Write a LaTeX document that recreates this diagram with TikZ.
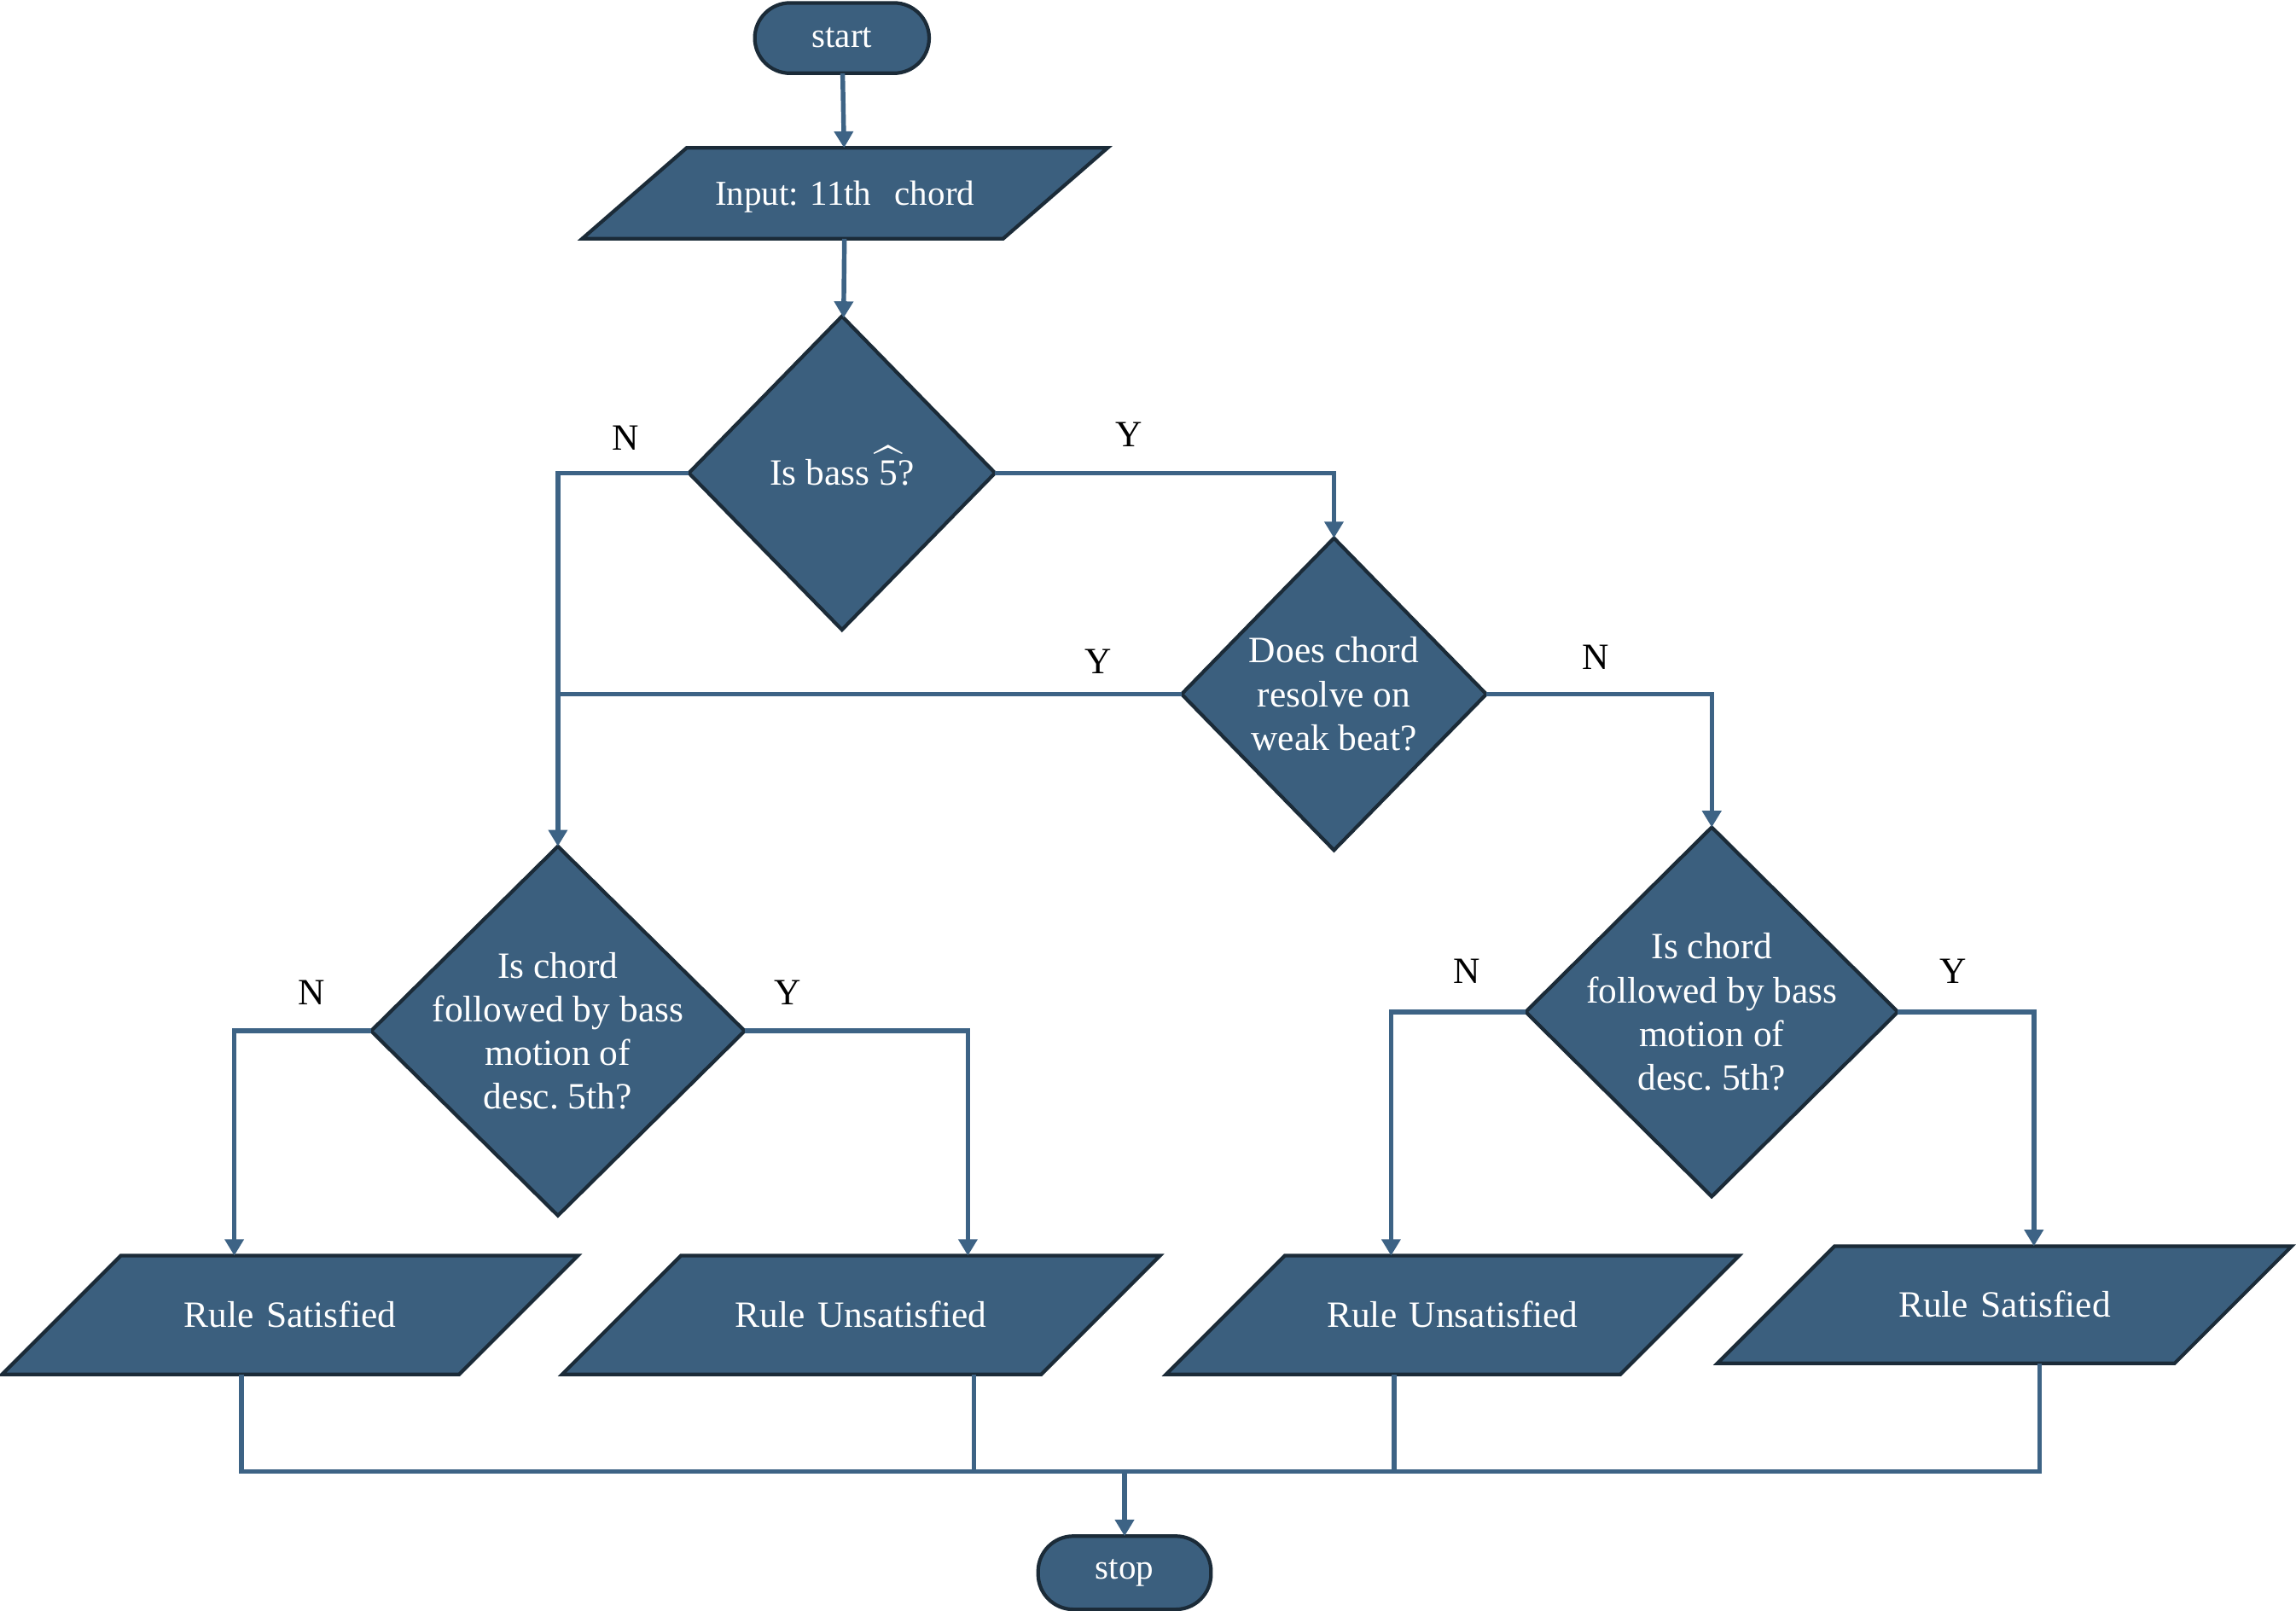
\documentclass[tikz,border=0pt]{standalone}
\usepackage{fontspec}
\setmainfont{Liberation Serif}
\usetikzlibrary{arrows.meta,shapes.geometric}
\definecolor{boxfill}{HTML}{3B5F7E}
\definecolor{boxline}{HTML}{1B2B38}
\definecolor{conn}{HTML}{3D6385}
\frenchspacing

\begin{document}
\begin{tikzpicture}[x=0.01cm,y=-0.01cm,
  font=\fontsize{7.2}{8.5}\selectfont,
  box/.style={draw=boxline,fill=boxfill,line width=0.7pt,text=white,inner sep=0pt,outer sep=0pt},
  term/.style={box,rectangle,rounded corners=0.24cm,font=\fontsize{6.8}{8}\selectfont},
  dia/.style={box,diamond},
  io/.style={box,trapezium,trapezium left angle=45,trapezium right angle=135,align=center,
    text width=2.31cm,text height=0.489cm,text depth=0.321cm},
  txt/.style={text=white,align=center,inner sep=0pt},
  lab/.style={inner sep=0pt},
  ln/.style={draw=conn,line width=0.9pt},
  arr/.style={ln,-{Triangle[length=3.2pt,width=3.6pt]}}]
\useasboundingbox (0,0) rectangle (1568,1100);

\node[term,minimum width=1.19cm,minimum height=0.48cm] (start) at (575,26) {start};
\node[io,trapezium left angle=41,trapezium right angle=139,text width=2.16cm,text height=0.394cm,text depth=0.226cm,font=\fontsize{6.8}{8}\selectfont] (in) at (577,132) {Input: 11th\ \ chord};

\node[dia,minimum width=2.09cm,minimum height=2.14cm] (Q1) at (575,323) {};
\node[txt,text height=0.168cm,text depth=0pt] (Q1t) at (Q1) {Is bass \mbox{$\widehat{\mbox{5}}$}?};
\node[dia,minimum width=2.08cm,minimum height=2.13cm] (Q2) at (911,474) {};
\node[txt] (Q2t) at (Q2) {Does chord\\resolve on\\weak beat?};
\node[dia,minimum width=2.55cm,minimum height=2.52cm] (Q3) at (381,704) {};
\node[txt] (Q3t) at (Q3) {Is chord\\followed by bass\\motion of\\desc. 5th?};
\node[dia,minimum width=2.54cm,minimum height=2.52cm] (Q4) at (1169,691) {};
\node[txt] (Q4t) at (Q4) {Is chord\\followed by bass\\motion of\\desc. 5th?};

\node[io] (RS1) at (198,898) {Rule Satisfied};
\node[io,text width=2.46cm] (RU1) at (588,898) {Rule Unsatisfied};
\node[io,text width=2.29cm] (RU2) at (992,898) {Rule Unsatisfied};
\node[io,text width=2.32cm,text height=0.484cm,text depth=0.316cm] (RS2) at (1369,891) {Rule Satisfied};

\node[term,minimum width=1.18cm,minimum height=0.50cm] (stop) at (768,1074) {stop};

\node[lab] (l1) at (427,299) {N};
\node[lab] (l2) at (771,297) {Y};
\node[lab] (l3) at (750,452) {Y};
\node[lab] (l4) at (1090,449) {N};
\node[lab] (l5) at (213,678) {N};
\node[lab] (l6) at (538,678) {Y};
\node[lab] (l7) at (1002,663) {N};
\node[lab] (l8) at (1334,663) {Y};

\coordinate (a1) at (160,0);
\coordinate (a2) at (661,0);
\coordinate (a3) at (950,0);
\coordinate (a4) at (1389,0);
\coordinate (b1) at (165,1005);
\coordinate (b2) at (665,1005);
\coordinate (b3) at (952,1005);
\coordinate (b4) at (1393,1005);

\draw[arr] (start) -- (in);
\draw[arr] (in) -- (Q1);
\draw[arr] (Q1.west) -| (Q3.north);
\draw[arr] (Q1.east) -| (Q2.north);
\draw[ln] (Q2.west) -- (Q2.west -| Q3.north);
\draw[arr] (Q2.east) -| (Q4.north);
\draw[arr] (Q3.west) -| (a1 |- RS1.north);
\draw[arr] (Q3.east) -| (a2 |- RU1.north);
\draw[arr] (Q4.west) -| (a3 |- RU2.north);
\draw[arr] (Q4.east) -| (a4 |- RS2.north);

\draw[ln] (b1 |- RS1.south) -- (b1) -- (b4) -- (b4 |- RS2.south);
\draw[ln] (b2 |- RU1.south) -- (b2);
\draw[ln] (b3 |- RU2.south) -- (b3);
\draw[arr] (stop.north |- b1) -- (stop.north);

\end{tikzpicture}
\end{document}
